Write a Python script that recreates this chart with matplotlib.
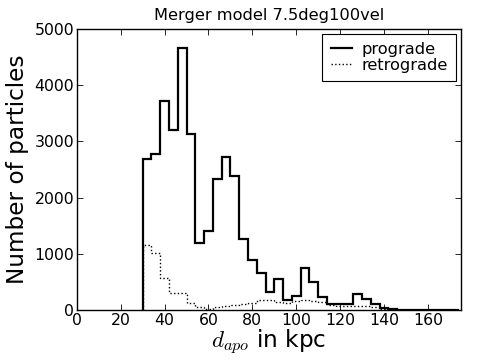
import numpy as np
import matplotlib
matplotlib.use("Agg")
import matplotlib.pyplot as plt

# histogram bin edges (kpc), 4 kpc wide starting at 30
bin_edges = np.arange(30, 178, 4)

# counts per bin
prograde = [2680, 2775, 3720, 3200, 4650, 3130, 1200, 1410, 2325, 2725,
            2390, 1263, 890, 665, 315, 552, 178, 255, 753, 504,
            237, 115, 107, 110, 285, 192, 101, 30, 12, 5,
            2, 1, 1, 0, 0, 0]
retrograde = [1150, 1020, 575, 310, 305, 130, 50, 25, 55, 75,
              95, 110, 125, 175, 170, 140, 120, 160, 178, 160,
              135, 90, 78, 78, 75, 70, 47, 18, 6, 3,
              1, 1, 0, 0, 0, 0]

title = "Merger model 7.5deg100vel"
xticks = np.arange(0, 161, 20)
yticks = np.arange(0, 5001, 1000)

plt.rcParams['mathtext.fontset'] = 'cm'
plt.rcParams['xtick.direction'] = 'in'
plt.rcParams['ytick.direction'] = 'in'
plt.rcParams['xtick.top'] = True
plt.rcParams['ytick.right'] = True

fig = plt.figure(figsize=(4.8, 3.62), dpi=100)
ax = fig.add_axes([0.160, 0.1436, 0.800, 0.777])

ax.stairs(prograde, bin_edges, color='black', lw=1.6, label='prograde')
ax.stairs(retrograde, bin_edges, color='black', lw=1.0, ls=':', label='retrograde')

ax.set_xlim(0, 175)
ax.set_ylim(0, 5000)
ax.set_xticks(xticks)
ax.set_yticks(yticks)
ax.tick_params(labelsize=11.3, length=4, width=0.6, pad=2)
for s in ax.spines.values():
    s.set_linewidth(1.0)

ax.set_title(title, fontsize=11.7, pad=6)
ax.set_xlabel(r"$d_{apo}$ in kpc", fontsize=16.7, labelpad=0)
ax.set_ylabel("Number of particles", fontsize=16.7, labelpad=4)

# legend box in the reference is a plain square frame
leg = ax.legend(loc='upper right', fontsize=11.7, handlelength=1.3,
                fancybox=False, framealpha=1, edgecolor='black',
                borderaxespad=0.3, borderpad=0.5, labelspacing=0.05,
                handletextpad=0.6)
leg.get_frame().set_linewidth(0.8)

fig.savefig("out.png", dpi=100)
